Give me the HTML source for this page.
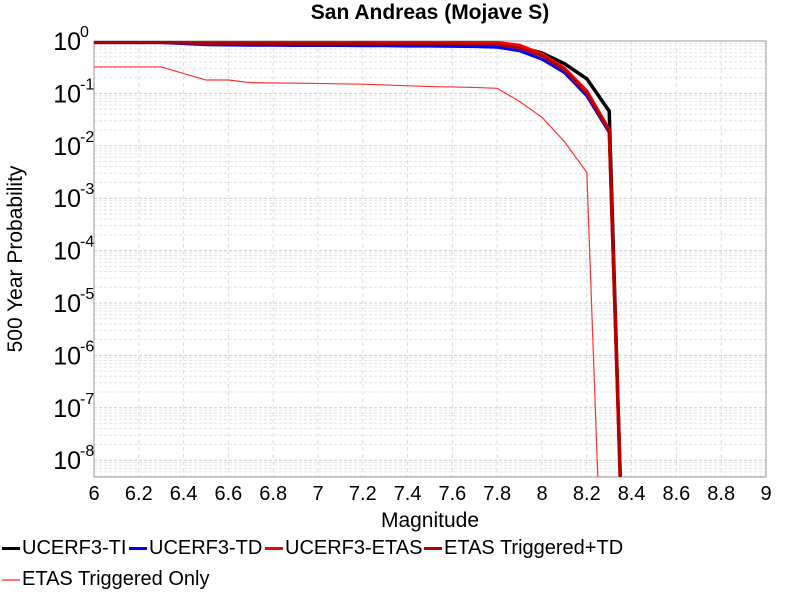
<!DOCTYPE html>
<html><head><meta charset="utf-8"><style>
body{margin:0;background:#fff;font-family:"Liberation Sans",sans-serif;}
#c{position:relative;width:800px;height:600px;}
.leg{position:absolute;font-size:20px;color:#000;white-space:nowrap;}
.sw{display:inline-block;width:18px;height:3px;vertical-align:middle;margin-right:2px;}
</style></head><body>
<div id="c">
<svg id="s" width="800" height="600" style="position:absolute;left:0;top:0"></svg>
<div class="leg" style="left:2px;top:537px"><span class="sw" style="background:#000"></span>UCERF3-TI</div>
<div class="leg" style="left:129px;top:537px"><span class="sw" style="background:#00f"></span>UCERF3-TD</div>
<div class="leg" style="left:265px;top:537px"><span class="sw" style="background:#f00"></span>UCERF3-ETAS</div>
<div class="leg" style="left:424px;top:537px"><span class="sw" style="background:#b00000"></span>ETAS Triggered+TD</div>
<div class="leg" style="left:2px;top:568px"><span class="sw" style="background:#f77;height:2px"></span>ETAS Triggered Only</div>
</div>
<script>
const mags=[6.0,6.1,6.2,6.3,6.4,6.5,6.6,6.7,6.8,6.9,7.0,7.1,7.2,7.3,7.4,7.5,7.6,7.7,7.8,7.9,8.0,8.1,8.2,8.3,8.35];
const ti=[0.94,0.94,0.94,0.94,0.93,0.92,0.92,0.92,0.91,0.91,0.91,0.91,0.91,0.9,0.9,0.9,0.9,0.89,0.88,0.77,0.59,0.37,0.19,0.046,1e-10];
const td=[0.93,0.93,0.93,0.93,0.89,0.85,0.84,0.83,0.83,0.82,0.82,0.82,0.81,0.81,0.8,0.8,0.79,0.78,0.76,0.65,0.45,0.25,0.09,0.018,1e-10];
const etas=[0.96,0.96,0.96,0.96,0.96,0.95,0.95,0.95,0.95,0.95,0.95,0.95,0.95,0.95,0.95,0.95,0.95,0.94,0.93,0.82,0.56,0.3,0.11,0.02,1e-10];
const trigTd=[0.94,0.94,0.94,0.94,0.92,0.9,0.9,0.9,0.89,0.89,0.89,0.89,0.89,0.88,0.88,0.88,0.88,0.87,0.86,0.74,0.52,0.28,0.1,0.019,1e-10];
const trigMags=[6.0,6.3,6.5,6.6,6.7,7.0,7.2,7.5,7.7,7.8,7.9,8.0,8.1,8.2,8.25];
const trigOnly=[0.32,0.32,0.18,0.18,0.16,0.155,0.15,0.135,0.13,0.125,0.07,0.035,0.012,0.0031,1e-10];
const xTicks=[6,6.2,6.4,6.6,6.8,7,7.2,7.4,7.6,7.8,8,8.2,8.4,8.6,8.8,9];
const yExps=[0,-1,-2,-3,-4,-5,-6,-7,-8];
const L=94,R=766,T=41,B=477,dec=52.4;
const xs=v=>L+(v-6)/3*(R-L);
const ys=v=>{let y=T-Math.log10(v)*dec;return Math.min(y,B+5);};
const s=document.getElementById('s');const NS='http://www.w3.org/2000/svg';
function mk(t,a,p){const e=document.createElementNS(NS,t);for(const k in a)e.setAttribute(k,a[k]);(p||s).appendChild(e);return e;}
const cp=mk('clipPath',{id:'cp'});mk('rect',{x:L,y:T,width:R-L,height:B-T},cp);
const grid=mk('g',{});


xTicks.forEach(t=>{mk('line',{x1:xs(t),x2:xs(t),y1:T,y2:B,stroke:'#ddd','stroke-dasharray':'4,3'},grid);});
for(let e=0;e>=-9;e--){for(let m=1;m<10;m++){const yy=T-(e-1+Math.log10(m))*dec;if(yy>=T&&yy<=B)mk('line',{x1:L,x2:R,y1:yy,y2:yy,stroke:m==1?'#ccc':'#e4e4e4','stroke-dasharray':'3,2'},grid);}}
mk('rect',{x:L,y:T,width:R-L,height:B-T,fill:'none',stroke:'#999'});
const series=[[mags,ti,'#000',3.5,'line-ucerf3-ti'],[mags,td,'#0000ff',3,'line-ucerf3-td'],[mags,etas,'#ff0000',3.5,'line-ucerf3-etas'],[mags,trigTd,'#b00000',3,'line-etas-triggered-td'],[trigMags,trigOnly,'#ff3030',1.2,'line-etas-triggered-only']];
series.forEach(([xv,yv,c,w,n])=>{const p=mk('polyline',{points:xv.map((x,i)=>xs(x)+','+ys(yv[i])).join(' '),fill:'none',stroke:c,'stroke-width':w,'clip-path':'url(#cp)'});

});
xTicks.forEach(t=>{const e=mk('text',{x:xs(t),y:500,'text-anchor':'middle','font-size':20,'font-family':'Liberation Sans'});e.textContent=String(t);

});
yExps.forEach(ex=>{const y=T-ex*dec;const e=mk('text',{x:81,y:y+9,'text-anchor':'end','font-size':25,'font-family':'Liberation Sans'});e.textContent='10';


const u=mk('text',{x:80,y:y-4,'font-size':16,'font-family':'Liberation Sans'});u.textContent=ex==0?' 0':String(ex);

});
const xt=mk('text',{x:430,y:527,'text-anchor':'middle','font-size':21,'font-family':'Liberation Sans'});xt.textContent='Magnitude';


const yt=mk('text',{x:0,y:0,transform:'translate(22,259) rotate(-90)','text-anchor':'middle','font-size':21,'font-family':'Liberation Sans'});yt.textContent='500 Year Probability';


const tt=mk('text',{x:430,y:19,'text-anchor':'middle','font-size':21,'font-weight':'bold','font-family':'Liberation Sans'});tt.textContent='San Andreas (Mojave S)';


</script>
</body></html>
